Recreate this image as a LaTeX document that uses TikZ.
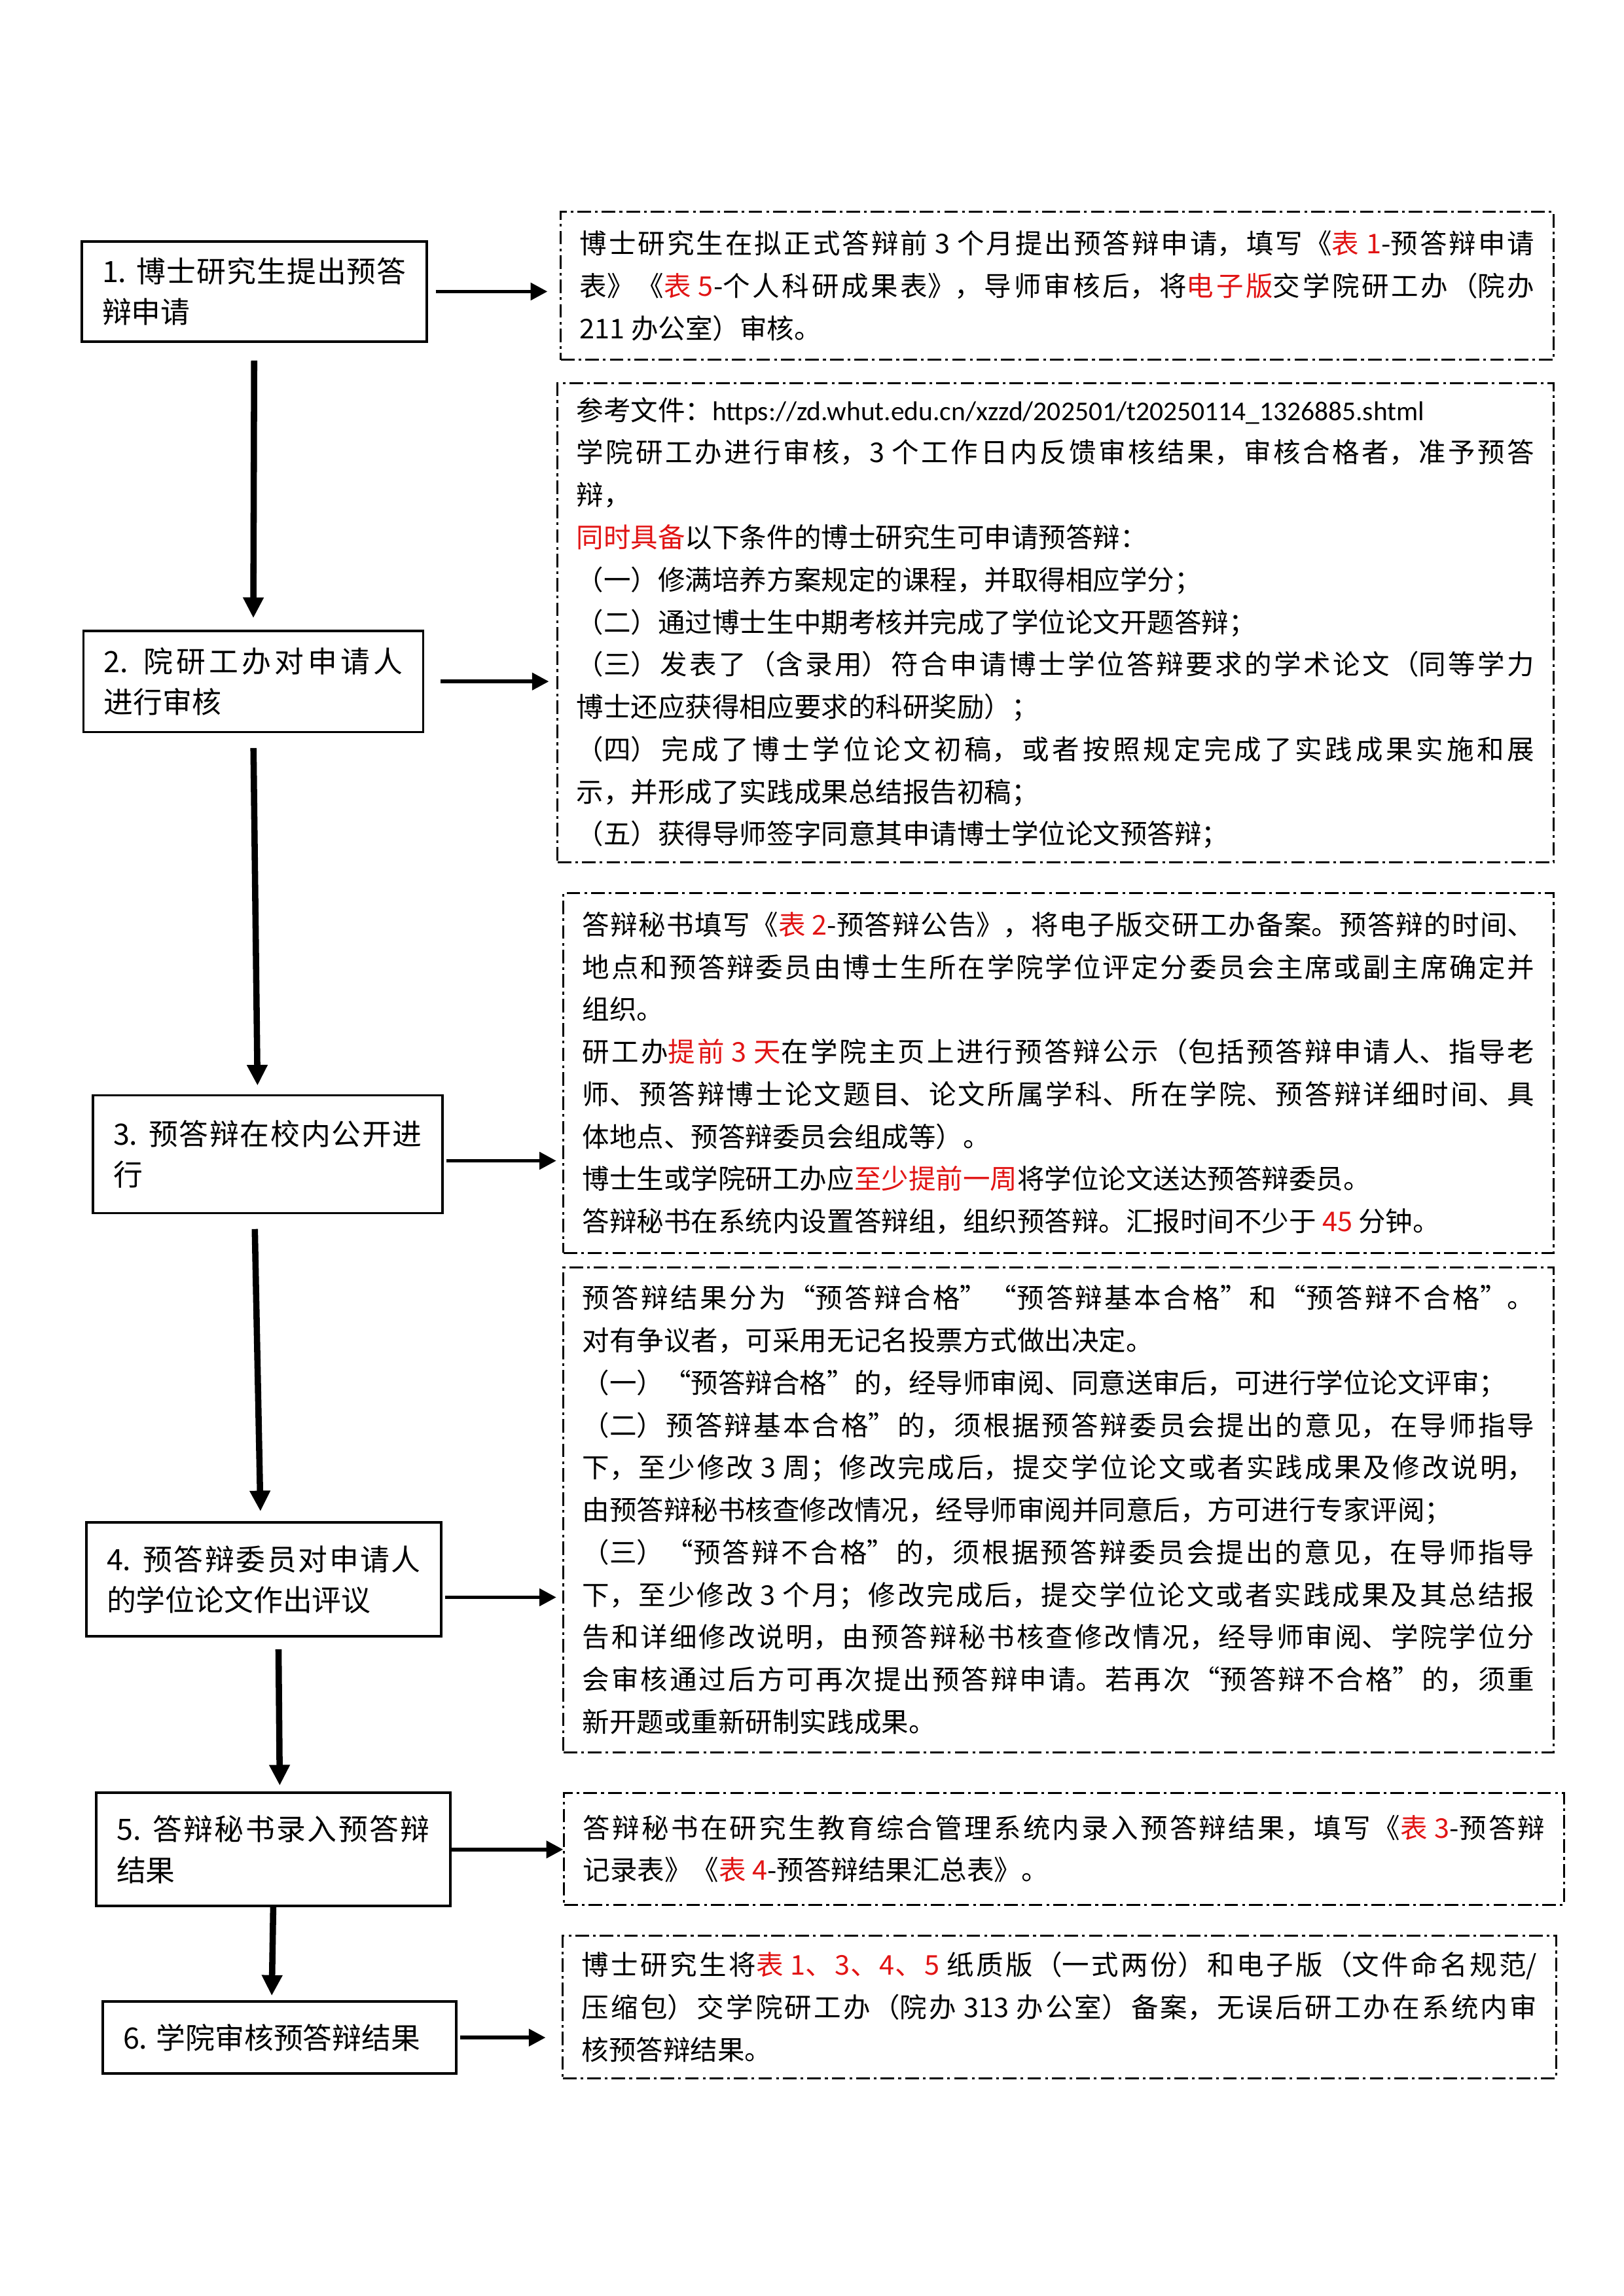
\documentclass[tikz,border=0pt]{standalone}
\usepackage{fontspec}
\setmainfont{Noto Sans CJK SC}
\newfontfamily\urlfont{Carlito}
\usepackage{tikz}
\usetikzlibrary{arrows.meta}
\XeTeXlinebreaklocale "zh"
\XeTeXlinebreakskip=0pt plus 2pt minus 0.1pt
\tolerance=9999
\definecolor{hired}{RGB}{225,20,20}
\newcommand{\rd}[1]{\textcolor{hired}{#1}}
\tikzset{
  stepbox/.style={draw, line width=0.9pt, fill=white, inner xsep=7.5pt, align=justify, font=\fontsize{10.8pt}{15pt}\selectfont},
  notebox/.style={draw, line width=0.7pt, dash pattern=on 5pt off 1.5pt on 1pt off 1.5pt, inner xsep=7pt, align=justify, font=\fontsize{10pt}{15.6pt}\selectfont},
  flowdown/.style={-{Triangle[length=7.6pt, width=7.2pt]}, line width=2.3pt},
  flowright/.style={-{Triangle[length=6.2pt, width=6.2pt]}, line width=1.4pt}
}

\begin{document}
\begin{tikzpicture}
      \useasboundingbox (0, 0) rectangle (21, -29.7);

      \node[stepbox, text width=3.934cm, minimum height=1.295cm] (S1) at (3.288, -3.771) {1. 博士研究生提出预答\linebreak 辩申请};
      \node[stepbox, text width=3.866cm, minimum height=1.309cm] (S2) at (3.276, -8.815) {2. 院研工办对申请人\linebreak 进行审核};
      \node[stepbox, text width=3.993cm, minimum height=1.524cm] (S3) at (3.462, -14.930) {3. 预答辩在校内公开进\linebreak 行};
      \node[stepbox, text width=4.061cm, minimum height=1.473cm] (S4) at (3.411, -20.432) {4. 预答辩委员对申请人\linebreak 的学位论文作出评议};
      \node[stepbox, text width=4.052cm, minimum height=1.464cm] (S5) at (3.534, -23.924) {5. 答辩秘书录入预答辩\linebreak 结果};
      \node[stepbox, text width=4.044cm, minimum height=0.931cm] (S6) at (3.614, -26.357) {6. 学院审核预答辩结果};

      \node[notebox, text width=12.348cm, minimum height=1.913cm] (N1) at (13.674, -3.699) {博士研究生在拟正式答辩前 3 个月提出预答辩申请，填写《\rd{表 1}-预答辩申请\linebreak 表》《\rd{表 5}-个人科研成果表》，导师审核后，将\rd{电子版}交学院研工办（院办\linebreak 211 办公室）审核。};
      \node[notebox, text width=12.390cm, minimum height=6.196cm] (N2) at (13.653, -8.058) {参考文件：{\urlfont https://zd.whut.edu.cn/xzzd/202501/t20250114\_1326885.shtml}\par
        学院研工办进行审核，3 个工作日内反馈审核结果，审核合格者，准予预答\linebreak 辩，\par
        \rd{同时具备}以下条件的博士研究生可申请预答辩：\par
        （一）修满培养方案规定的课程，并取得相应学分；\par
        （二）通过博士生中期考核并完成了学位论文开题答辩；\par
        （三）发表了（含录用）符合申请博士学位答辩要求的学术论文（同等学力\linebreak 博士还应获得相应要求的科研奖励）；\par
        （四）完成了博士学位论文初稿，或者按照规定完成了实践成果实施和展\linebreak 示，并形成了实践成果总结报告初稿；\par
        （五）获得导师签字同意其申请博士学位论文预答辩；};
      \node[notebox, text width=12.314cm, minimum height=4.655cm] (N3) at (13.691, -13.881) {答辩秘书填写《\rd{表 2}-预答辩公告》，将电子版交研工办备案。预答辩的时间、\linebreak 地点和预答辩委员由博士生所在学院学位评定分委员会主席或副主席确定并\linebreak 组织。\par
        研工办\rd{提前 3 天}在学院主页上进行预答辩公示（包括预答辩申请人、指导老\linebreak 师、预答辩博士论文题目、论文所属学科、所在学院、预答辩详细时间、具\linebreak 体地点、预答辩委员会组成等）。\par
        博士生或学院研工办应\rd{至少提前一周}将学位论文送达预答辩委员。\par
        答辩秘书在系统内设置答辩组，组织预答辩。汇报时间不少于 \rd{45} 分钟。};
      \node[notebox, text width=12.314cm, minimum height=6.272cm] (N4) at (13.691, -19.531) {预答辩结果分为“预答辩合格”“预答辩基本合格”和“预答辩不合格”。\linebreak 对有争议者，可采用无记名投票方式做出决定。\par
        （一）“预答辩合格”的，经导师审阅、同意送审后，可进行学位论文评审；\par
        （二）预答辩基本合格”的，须根据预答辩委员会提出的意见，在导师指导\linebreak 下，至少修改 3 周；修改完成后，提交学位论文或者实践成果及修改说明，\linebreak 由预答辩秘书核查修改情况，经导师审阅并同意后，方可进行专家评阅；\par
        （三）“预答辩不合格”的，须根据预答辩委员会提出的意见，在导师指导\linebreak 下，至少修改 3 个月；修改完成后，提交学位论文或者实践成果及其总结报\linebreak 告和详细修改说明，由预答辩秘书核查修改情况，经导师审阅、学院学位分\linebreak 会审核通过后方可再次提出预答辩申请。若再次“预答辩不合格”的，须重\linebreak 新开题或重新研制实践成果。};
      \node[notebox, text width=12.441cm, minimum height=1.447cm] (N5) at (13.763, -23.915) {答辩秘书在研究生教育综合管理系统内录入预答辩结果，填写《\rd{表 3}-预答辩\linebreak 记录表》《\rd{表 4}-预答辩结果汇总表》。};
      \node[notebox, text width=12.356cm, minimum height=1.845cm] (N6) at (13.703, -25.960) {博士研究生将\rd{表 1、3、4、5} 纸质版（一式两份）和电子版（文件命名规范/\linebreak 压缩包）交学院研工办（院办 313 办公室）备案，无误后研工办在系统内审\linebreak 核预答辩结果。};

      \draw[flowdown, shorten <=0.23cm, shorten >=0.15cm] (S1.south) to (S2.north);
      \draw[flowdown, shorten <=0.19cm, shorten >=0.11cm] (S2.south) to ([xshift=-0.13cm]S3.north);
      \draw[flowdown, shorten <=0.19cm, shorten >=0.13cm] ([xshift=-0.17cm]S3.south) to ([xshift=-0.04cm]S4.north);
      \draw[flowdown, shorten <=0.15cm, shorten >=0.08cm] ([xshift=0.19cm]S4.south) to ([xshift=0.085cm]S5.north);
      \draw[flowdown, shorten >=0.06cm] (S5.south) to ([xshift=-0.10cm]S6.north);

      \coordinate (A3) at ([yshift=-0.085cm]S3.east);
      \coordinate (A4) at ([yshift=-0.23cm]S4.east);
      \draw[flowright, shorten <=0.1cm, shorten >=0.16cm] (S1.east) to (S1.east -| N1.west);
      \draw[flowright, shorten <=0.21cm, shorten >=0.1cm] (S2.east) to (S2.east -| N2.west);
      \draw[flowright, shorten <=0.04cm, shorten >=0.08cm] (A3) to (A3 -| N3.west);
      \draw[flowright, shorten <=0.04cm, shorten >=0.08cm] (A4) to (A4 -| N4.west);
      \draw[flowright] (S5.east) to (S5.east -| N5.west);
      \draw[flowright, shorten <=0.04cm, shorten >=0.21cm] (S6.east) to (S6.east -| N6.west);
    \end{tikzpicture}
\end{document}
